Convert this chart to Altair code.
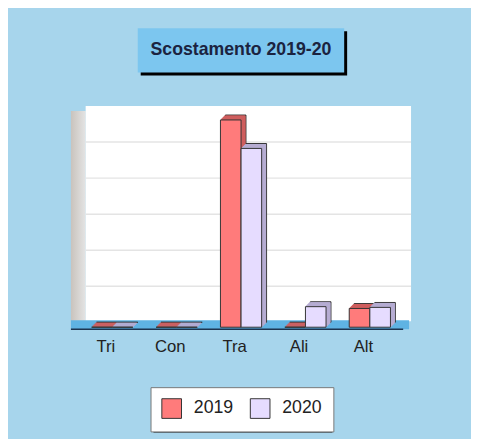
import altair as alt
import pandas as pd

categories = ["Tri", "Con", "Tra", "Ali", "Alt"]
values_2019 = [0, 0, 5.75, 0, 0.52]
values_2020 = [0, 0, 4.96, 0.57, 0.55]
years = ["2019", "2020"]
grid_values = [1, 2, 3, 4, 5]
title_text = "Scostamento 2019-20"

rows = []
for i, c in enumerate(categories):
    for j, (yr, vals) in enumerate(zip(years, [values_2019, values_2020])):
        rows.append({"cat": c, "idx": i, "yi": j, "year": yr, "v": vals[i]})
df = pd.DataFrame(rows)
grid_df = pd.DataFrame({"g": grid_values})
deco = alt.Data(values=[{"k": 0}])

W, H = 331, 220
FONT = "Liberation Sans"
BW = 0.32  # bar width in category units
yscale = alt.Scale(domain=[0, 6], nice=False, zero=True)
xscale = alt.Scale(domain=[-0.52, 4.533], nice=False, zero=False)
label_expr = "[" + ",".join("'%s'" % c for c in categories) + "][datum.value]"

def rect(x, x2, y, y2, **kw):
    return alt.Chart(deco).mark_rect(**kw).encode(
        x=alt.value(x), x2=alt.value(x2), y=alt.value(y), y2=alt.value(y2))

title_shadow = rect(63, 273, -81, -36, color="black")
title_box = rect(60, 270, -84, -39, color="#7cc6ef")
title_mark = alt.Chart(deco).mark_text(
    text=title_text, font=FONT, fontSize=18, fontWeight="bold",
    color="#1b2340", align="center", baseline="middle"
).encode(x=alt.value(165), y=alt.value(-62))
back_wall = rect(7, 338, -5, 214, color="white")
left_wall = rect(-8, 7, 0, 221, color=alt.Gradient(
    gradient="linear", x1=0, x2=1, y1=0, y2=0,
    stops=[alt.GradientStop(color="#c9c3bd", offset=0),
           alt.GradientStop(color="#e4e4e4", offset=1)]))
floor = rect(-8, 336, 213, 222, color="#5fb3e3")
floor_edge = alt.Chart(deco).mark_rule(color="#1d3550", strokeWidth=1.5).encode(
    x=alt.value(-8), x2=alt.value(330), y=alt.value(222))
legend_shadow = rect(76, 258, 284, 327, color="black")

grid = alt.Chart(grid_df).mark_rule(color="#e4e4e4", strokeWidth=1.5, yOffset=-5).encode(
    y=alt.Y("g:Q", scale=yscale, axis=None),
    x=alt.value(7), x2=alt.value(338))

base = alt.Chart(df).transform_calculate(
    side="datum.year == '2019' ? '#cf5f5f' : '#b6acd2'",
    x0="datum.idx - %f + %f * datum.yi" % (BW, BW),
    x1="datum.idx + %f * datum.yi" % BW,
)

xenc = alt.X("x0:Q", scale=xscale, title=None,
             axis=alt.Axis(values=list(range(len(categories))), labelExpr=label_expr,
                           ticks=False, domain=False, grid=False,
                           labelFont=FONT, labelFontSize=17, labelColor="#222",
                           labelPadding=12, labelOffset=-7, labelFlush=False))
x2enc = alt.X2("x1:Q")
yenc = alt.Y("v:Q", scale=yscale, axis=None)
y2enc = alt.datum(0)

layers = []
for k in range(5, 0, -1):
    lyr = base.mark_bar(xOffset=k, x2Offset=k, yOffset=-k, y2Offset=-k,
                        strokeWidth=1).encode(
        x=xenc, x2=x2enc, y=yenc, y2=y2enc,
        color=alt.Color("side:N", scale=None),
        stroke=(alt.value("#333") if k == 5 else alt.Stroke("side:N", scale=None)),
    )
    layers.append(lyr)

front = base.mark_bar(stroke="#333", strokeWidth=1).encode(
    x=xenc, x2=x2enc, y=yenc, y2=y2enc,
    color=alt.Color("year:N", sort=years,
                    scale=alt.Scale(domain=years, range=["#ff7b7b", "#e6dcff"]),
                    legend=alt.Legend(orient="none", legendX=73, legendY=281,
                                      direction="horizontal", title=None,
                                      symbolType="square", symbolSize=400,
                                      symbolStrokeColor="#555", symbolStrokeWidth=1,
                                      symbolOpacity=1,
                                      labelFont=FONT, labelFontSize=18, labelColor="#222",
                                      labelOffset=12, columnPadding=14, padding=11,
                                      fillColor="white", strokeColor="#777")),
)

chart = alt.layer(
    title_shadow, title_box, title_mark, left_wall, back_wall, grid, floor, floor_edge,
    legend_shadow, *layers, front
).properties(
    width=W, height=H,
    autosize=alt.AutoSizeParams(type="none"),
    padding={"left": 72, "top": 101, "right": 68, "bottom": 110},
    background="#a7d5ec",
).configure_view(stroke=None, fill=None)

chart.save("out.html", embed_options={"renderer": "svg", "actions": False})
